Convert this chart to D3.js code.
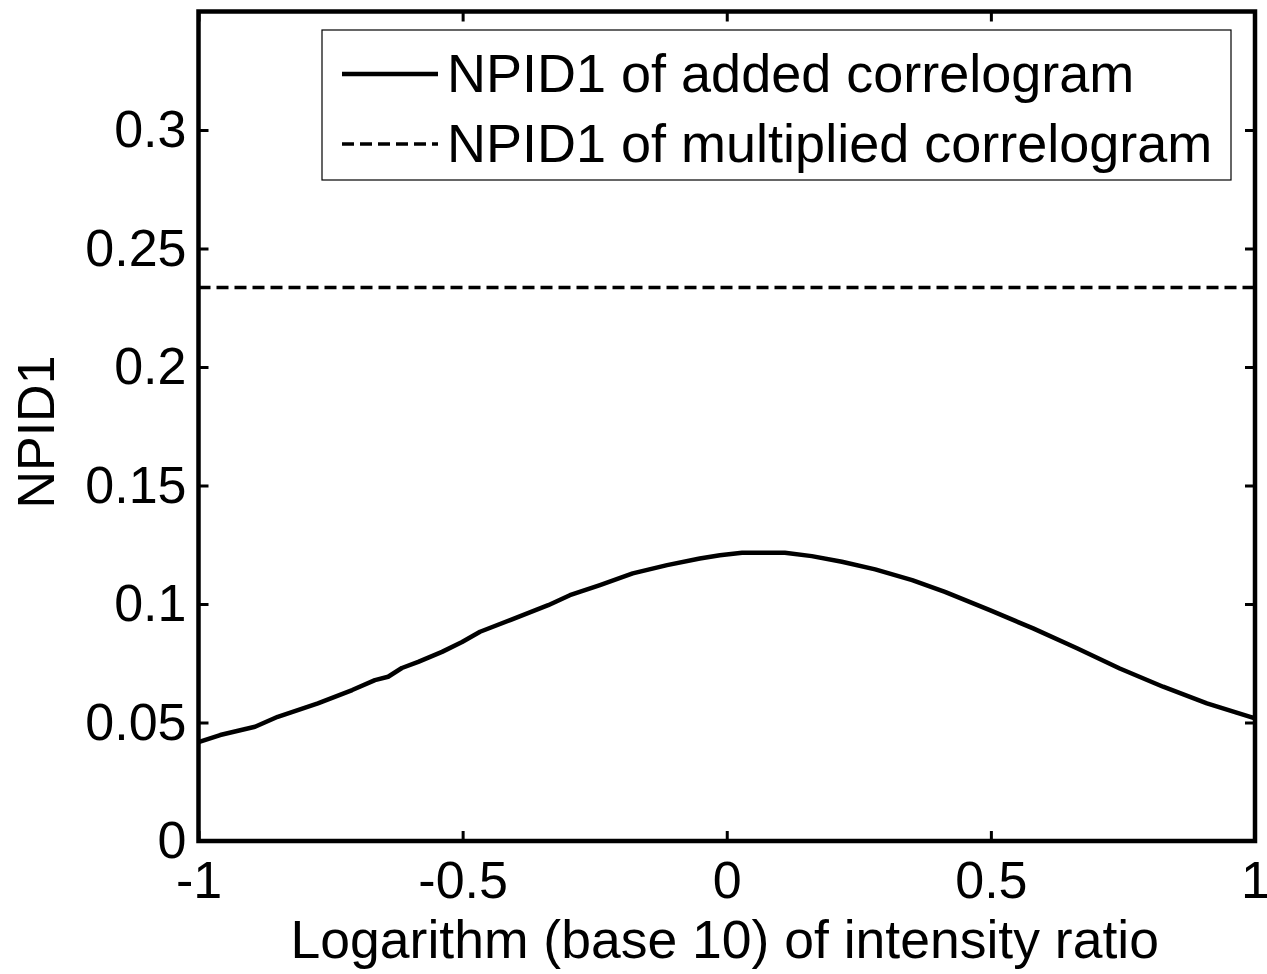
<!DOCTYPE html>
<html>
<head>
<meta charset="utf-8">
<script src="https://cdn.jsdelivr.net/npm/d3@7"></script>
<style>
body { margin: 0; background: #fff; }
text { font-family: "Liberation Sans", Arial, sans-serif; fill: #000; }
</style>
</head>
<body>
<script>
const WIDTH = 1267;
const HEIGHT = 974;
const LEFT = 198.5, RIGHT = 1255, TOP = 11.5, BOTTOM = 841;

// values
const logRatio = [-1, -0.959, -0.893, -0.850, -0.774, -0.709, -0.666, -0.641, -0.615, -0.584,
	-0.539, -0.501, -0.467, -0.410, -0.338, -0.297, -0.240, -0.178, -0.113, -0.051,
	-0.013, 0.029, 0.110, 0.161, 0.218, 0.281, 0.351, 0.413, 0.498, 0.580,
	0.663, 0.744, 0.826, 0.909, 0.991, 1];
const npidAdded = [0.0417, 0.0447, 0.0482, 0.0524, 0.0581, 0.0637, 0.0679, 0.0693, 0.0730, 0.0756,
	0.0798, 0.0840, 0.0883, 0.0932, 0.0995, 0.1037, 0.1080, 0.1129, 0.1164, 0.1192,
	0.1206, 0.1216, 0.1216, 0.1202, 0.1178, 0.1146, 0.1101, 0.1051, 0.0974, 0.0897,
	0.0813, 0.0728, 0.0651, 0.0581, 0.0524, 0.0518];
const npidMultiplied = 0.2335;

const xTicks = [-1, -0.5, 0, 0.5, 1];
const yTicks = [0, 0.05, 0.1, 0.15, 0.2, 0.25, 0.3];
const seriesNames = ["NPID1 of added correlogram", "NPID1 of multiplied correlogram"];

var drawGraph = function(){
	var svg = d3.select('body').append('svg')
		.attr('width', WIDTH)
		.attr('height', HEIGHT);

	svg.append('rect').attr('width', WIDTH).attr('height', HEIGHT).attr('fill', '#fff');

	var xScale = d3.scaleLinear().domain([-1, 1]).range([LEFT, RIGHT]);
	var yScale = d3.scaleLinear().domain([0, 0.35]).range([BOTTOM, TOP]);

	var fmt = function(d){ return String(d); };

	// curves
	var line = d3.line()
		.x(function(d, i){ return xScale(logRatio[i]); })
		.y(function(d){ return yScale(d); });

	svg.append('path')
		.attr('d', line(npidAdded))
		.attr('fill', 'none')
		.attr('stroke', '#000')
		.attr('stroke-width', 4.5)
		.attr('stroke-linejoin', 'round');

	svg.append('path')
		.attr('d', d3.line()([[xScale(-1), yScale(npidMultiplied)], [xScale(1), yScale(npidMultiplied)]]))
		.attr('fill', 'none')
		.attr('stroke', '#000')
		.attr('stroke-width', 3.5)
		.attr('stroke-dasharray', '12,6');

	// axes
	var styleAxis = function(g){
		g.select('.domain').remove();
		g.selectAll('.tick line').attr('stroke', '#000').attr('stroke-width', 3);
		g.selectAll('.tick text').attr('font-size', 52).attr('font-family', '"Liberation Sans", Arial, sans-serif');
	};

	svg.append('g')
		.attr('transform', 'translate(0,' + BOTTOM + ')')
		.call(d3.axisBottom(xScale).tickValues(xTicks).tickSize(-10).tickPadding(20).tickFormat(fmt))
		.call(styleAxis);

	svg.append('g')
		.attr('transform', 'translate(' + LEFT + ',0)')
		.call(d3.axisLeft(yScale).tickValues(yTicks).tickSize(-10).tickPadding(12).tickFormat(fmt))
		.call(styleAxis);

	svg.append('g')
		.attr('transform', 'translate(0,' + TOP + ')')
		.call(d3.axisTop(xScale).tickValues(xTicks).tickSize(-10).tickFormat(''))
		.call(styleAxis);

	svg.append('g')
		.attr('transform', 'translate(' + RIGHT + ',0)')
		.call(d3.axisRight(yScale).tickValues(yTicks).tickSize(-10).tickFormat(''))
		.call(styleAxis);

	svg.append('rect')
		.attr('x', LEFT).attr('y', TOP)
		.attr('width', RIGHT - LEFT).attr('height', BOTTOM - TOP)
		.attr('fill', 'none').attr('stroke', '#000').attr('stroke-width', 4.5);

	// axis titles
	svg.append('text')
		.attr('x', (LEFT + RIGHT) / 2 - 2)
		.attr('y', 958)
		.attr('text-anchor', 'middle')
		.attr('font-size', 53.5)
		.text('Logarithm (base 10) of intensity ratio');

	svg.append('text')
		.attr('transform', 'translate(54,' + 432 + ') rotate(-90)')
		.attr('text-anchor', 'middle')
		.attr('font-size', 52)
		.text('NPID1');

	// legend
	var legend = svg.append('g');
	legend.append('rect')
		.attr('x', 322).attr('y', 30).attr('width', 909).attr('height', 150)
		.attr('fill', '#fff').attr('stroke', '#000').attr('stroke-width', 1.2);

	var rows = legend.selectAll('g.row').data(seriesNames).enter()
		.append('g').attr('class', 'row')
		.attr('transform', function(d, i){ return 'translate(0,' + (74 + i * 70) + ')'; });

	rows.append('line')
		.attr('x1', 342).attr('x2', 438).attr('y1', 0).attr('y2', 0)
		.attr('stroke', '#000')
		.attr('stroke-width', function(d, i){ return i === 0 ? 4.5 : 3.5; })
		.attr('stroke-dasharray', function(d, i){ return i === 0 ? null : '12,6'; });

	rows.append('text')
		.attr('x', 447).attr('y', 18)
		.attr('font-size', 54)
		.text(function(d){ return d; });
};

window.onload = function(){
	drawGraph();
};
</script>
</body>
</html>
